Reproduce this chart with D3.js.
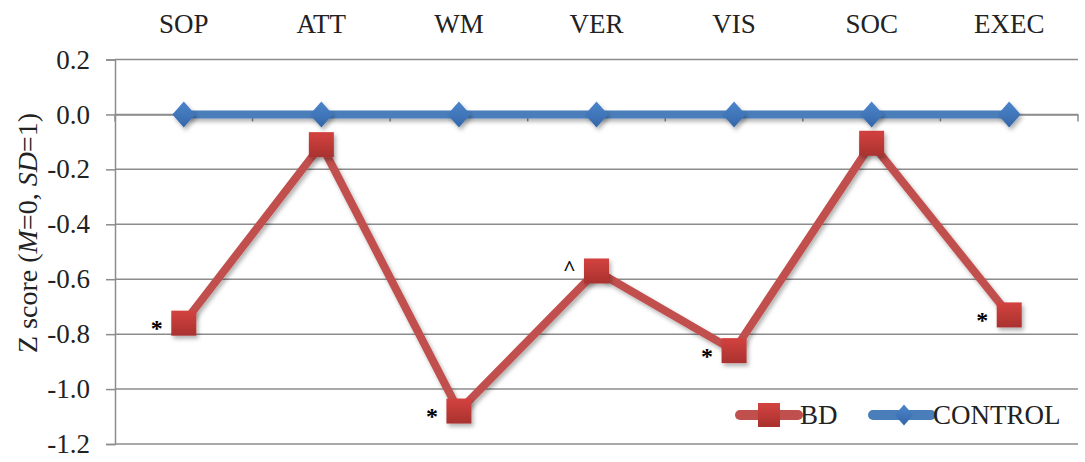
<!DOCTYPE html>
<html><head><meta charset="utf-8">
<script src="https://cdn.jsdelivr.net/npm/d3@7"></script>
<style>body{margin:0;background:#fff}svg{display:block}</style>
</head><body><svg id="c" width="1085" height="462"></svg>
<script>
const categories = ["SOP","ATT","WM","VER","VIS","SOC","EXEC"];
const bdValues = [-0.76,-0.11,-1.08,-0.57,-0.86,-0.105,-0.73];
const controlValues = [0,0,0,0,0,0,0];
const annotations = ["*","","*","^","*","","*"];
const yTicks = [0.2,0.0,-0.2,-0.4,-0.6,-0.8,-1.0,-1.2];
const seriesNames = ["BD","CONTROL"];

const FONT = "Liberation Serif";
const svg = d3.select("#c");
const pL = 115, pR = 1078, pT = 59.5, pB = 444;
const x = d3.scaleBand().domain(categories).range([pL, pR]);
const y = d3.scaleLinear().domain([-1.2, 0.2]).range([pB, pT]);
const red = "#C0504D", blue = "#4A7EBB";

const defs = svg.append("defs");
const sh = defs.append("filter").attr("id","sh").attr("filterUnits","userSpaceOnUse")
  .attr("x",-1200).attr("y",-1200).attr("width",3600).attr("height",3000);
sh.append("feDropShadow").attr("dx",2).attr("dy",3).attr("stdDeviation",2).attr("flood-color","#000").attr("flood-opacity",0.3);
const rg = defs.append("linearGradient").attr("id","rg").attr("x1",0).attr("y1",0).attr("x2",0).attr("y2",1);
rg.append("stop").attr("offset","0%").attr("stop-color","#D3423F");
rg.append("stop").attr("offset","100%").attr("stop-color","#A9322F");
const bg = defs.append("linearGradient").attr("id","bg").attr("x1",0).attr("y1",0).attr("x2",0).attr("y2",1);
bg.append("stop").attr("offset","0%").attr("stop-color","#4C86CC");
bg.append("stop").attr("offset","100%").attr("stop-color","#3566A8");

// gridlines
svg.append("g").selectAll("line").data(yTicks).join("line")
  .attr("x1", pL).attr("x2", pR)
  .attr("y1", d => y(d)).attr("y2", d => y(d))
  .attr("stroke", "#8C8C8C").attr("stroke-width", 1.5);

// y axis
const yAxis = d3.axisLeft(y).tickValues(yTicks).tickFormat(d3.format(".1f")).tickSize(9).tickPadding(16);
const gy = svg.append("g").attr("transform", `translate(${pL},0)`).call(yAxis);
gy.attr("font-family", null).attr("font-size", null);
gy.select(".domain").attr("stroke","#8C8C8C").attr("stroke-width",1.5);
gy.selectAll(".tick line").attr("stroke","#8C8C8C").attr("stroke-width",1.5);
gy.selectAll("text").style("font-family", FONT).style("font-size", "27px").attr("fill","#222")
  .text(d => d3.format(".1f")(d).replace("−","-"));

// x axis at zero (ticks below, labels at top)
const xAxis = d3.axisBottom(x).tickSize(0).tickFormat("");
const gx = svg.append("g").attr("transform", `translate(0,${y(0)})`).call(xAxis);
gx.select(".domain").attr("stroke","#8C8C8C").attr("stroke-width",1.5);
const bounds = categories.map(c => x(c) + x.bandwidth()).concat([x(categories[0])]);
svg.append("g").selectAll("line").data(bounds).join("line")
  .attr("x1", d => d).attr("x2", d => d)
  .attr("y1", y(0)).attr("y2", y(0) + 7)
  .attr("stroke", "#8C8C8C").attr("stroke-width", 1.5);
svg.append("g").selectAll("text").data(categories).join("text")
  .attr("x", d => x(d) + x.bandwidth()/2).attr("y", 33)
  .attr("text-anchor","middle").style("font-family", FONT).style("font-size", "27px").attr("fill","#222")
  .text(d => d);

// y title
const yt = svg.append("text").attr("transform", `translate(37,233) rotate(-90)`)
  .attr("text-anchor","middle").style("font-family", FONT).style("font-size", "28px").attr("fill","#222");
yt.append("tspan").text("Z score (");
yt.append("tspan").attr("font-style","italic").text("M");
yt.append("tspan").text("=0, ");
yt.append("tspan").attr("font-style","italic").text("SD");
yt.append("tspan").text("=1)");

const cx = d => x(d) + x.bandwidth()/2;
const line = d3.line().x(d => cx(d.c)).y(d => y(d.v));
const bdData = categories.map((c,i) => ({c, v: bdValues[i], a: annotations[i]}));
const ctData = categories.map((c,i) => ({c, v: controlValues[i]}));

// BD series
svg.append("path").datum(bdData).attr("d", line).attr("fill","none")
  .attr("stroke", red).attr("stroke-width", 8).attr("stroke-linejoin","round").attr("filter","url(#sh)");
svg.append("g").selectAll("rect").data(bdData).join("rect")
  .attr("x", d => cx(d.c) - 12.5).attr("y", d => y(d.v) - 12.5)
  .attr("width", 25).attr("height", 25).attr("fill","url(#rg)").attr("filter","url(#sh)");

// annotations
svg.append("g").selectAll("text").data(bdData.filter(d => d.a)).join("text")
  .attr("x", d => cx(d.c) - 27).attr("y", d => y(d.v) + (d.a === "^" ? 4 : 13))
  .attr("text-anchor","middle").style("font-family", FONT).style("font-size", d => d.a === "^" ? "22px" : "24px")
  .attr("font-weight","bold").attr("fill","#000").text(d => d.a);

// CONTROL series
const diamondPath = s => `M0,${-s}L${s*0.88},0L0,${s}L${-s*0.88},0Z`;
svg.append("path").datum(ctData).attr("d", line).attr("fill","none")
  .attr("stroke", blue).attr("stroke-width", 8).attr("filter","url(#sh)");
svg.append("g").selectAll("path").data(ctData).join("path")
  .attr("transform", d => `translate(${cx(d.c)},${y(d.v)})`)
  .attr("d", diamondPath(13)).attr("fill","url(#bg)").attr("filter","url(#sh)");

// legend
const legX = [740, 873];
const lg = svg.append("g").selectAll("g").data(seriesNames).join("g")
  .attr("transform", (d,i) => `translate(${legX[i]},415)`);
lg.append("line").attr("x1", 0).attr("x2", 58).attr("stroke", (d,i) => i ? blue : red)
  .attr("stroke-width", 10).attr("stroke-linecap","round");
lg.each(function(d,i){
  const g = d3.select(this);
  if (i === 0) g.append("rect").attr("x", 18).attr("y", -12).attr("width", 22).attr("height", 24).attr("fill","url(#rg)");
  else g.append("path").attr("transform","translate(31,0)").attr("d", diamondPath(10.5)).attr("fill","url(#bg)");
});
lg.append("text").attr("x", 60).attr("y", 9).style("font-family", FONT).style("font-size", "27px").attr("fill","#222").text(d => d);
</script></body></html>
